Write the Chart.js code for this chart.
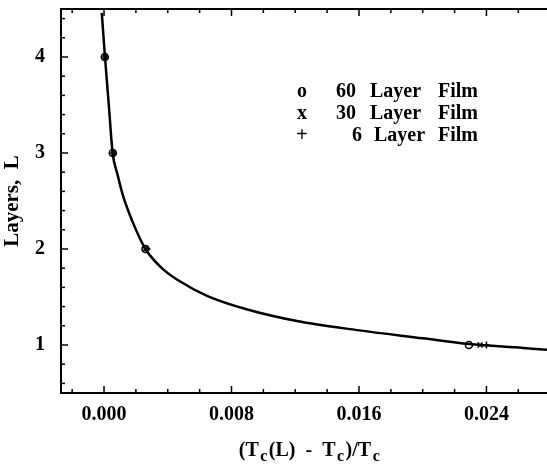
<!DOCTYPE html>
<html>
<head>
<meta charset="utf-8">
<script src="https://cdn.jsdelivr.net/npm/chart.js@4/dist/chart.umd.min.js"></script>
<style>
  body { margin: 0; background: #fff; }
  #wrap { width: 547px; height: 464px; position: relative; }
</style>
</head>
<body>
<div id="wrap"><canvas id="layersChart"></canvas></div>
<script>
// values
const xTicks = [0.000, 0.008, 0.016, 0.024];
const yTicks = [1, 2, 3, 4];

// fitted curve: [reduced temperature, layers]
const curveX = [-0.00014, 0.00006, 0.0003, 0.00054, 0.00084, 0.0012, 0.0018, 0.0026, 0.0037, 0.0046, 0.0065, 0.009, 0.0121, 0.0159, 0.020, 0.0229, 0.0263, 0.0278];
const curveL = [4.46, 4.0, 3.5, 3.0, 2.78, 2.55, 2.28, 2.0, 1.79, 1.68, 1.51, 1.37, 1.25, 1.155, 1.07, 1.01, 0.97, 0.95];

const layers = [4, 3, 2, 1];
const film60 = [0.00005, 0.00055, 0.0026, 0.0229];
const film30 = [0.00007, 0.0006, 0.0026, 0.0236];
const film6 = [0.0001, 0.0006, 0.0027, 0.0240];

const legendRows = [
  { sym: 'o', num: '60' },
  { sym: 'x', num: '30' },
  { sym: '+', num: '6' }
];

const serif = '"Liberation Serif", "DejaVu Serif", serif';
const toPoints = (xs, ys) => xs.map((v, i) => ({ x: v, y: ys[i] }));

const markerSet = (label, xs, style) => ({
  label: label,
  data: toPoints(xs, layers),
  showLine: false,
  pointStyle: style,
  pointRadius: 3.5,
  pointBorderWidth: 1.5,
  borderColor: '#000',
  backgroundColor: 'rgba(0,0,0,0)'
});

// axis frame, inward ticks, legend text and the x title with subscripts
const decorations = {
  id: 'decorations',
  afterDraw(chart) {
    const { ctx, chartArea: { left, right, top, bottom }, scales: { x, y } } = chart;
    ctx.save();
    ctx.strokeStyle = '#000';
    ctx.lineWidth = 2;
    ctx.beginPath();
    ctx.moveTo(right, top); ctx.lineTo(left, top);
    ctx.lineTo(left, bottom); ctx.lineTo(right, bottom);
    ctx.stroke();

    ctx.lineWidth = 1.5;
    for (let v = -0.002; v <= 0.0279; v += 0.002) {
      const px = x.getPixelForValue(v);
      const major = xTicks.some(t => Math.abs(t - v) < 1e-6);
      const len = major ? 7 : 4;
      ctx.beginPath();
      ctx.moveTo(px, bottom); ctx.lineTo(px, bottom - len);
      ctx.moveTo(px, top); ctx.lineTo(px, top + len);
      ctx.stroke();
    }
    for (let v = 0.6; v <= 4.45; v += 0.2) {
      const py = y.getPixelForValue(v);
      const major = yTicks.some(t => Math.abs(t - v) < 1e-6);
      const len = major ? 7 : 4;
      ctx.beginPath();
      ctx.moveTo(left, py); ctx.lineTo(left + len, py);
      ctx.stroke();
    }

    // legend
    ctx.fillStyle = '#000';
    ctx.font = 'bold 20px ' + serif;
    ctx.textBaseline = 'alphabetic';
    legendRows.forEach((r, i) => {
      const by = 97 + i * 22;
      ctx.textAlign = 'center';
      ctx.fillText(r.sym, 302, by);
      ctx.textAlign = 'right';
      ctx.fillText(r.num, i === 2 ? 362 : 356, by);
      ctx.textAlign = 'left';
      ctx.fillText('Layer', i === 2 ? 374 : 370, by);
      ctx.fillText('Film', 438, by);
    });

    // x title: (Tc(L) - Tc)/Tc
    const parts = [
      ['(T', 0], ['c', 1], ['(L)  -  T', 0], ['c', 1], [')/T', 0], ['c', 1]
    ];
    const mainFont = 'bold 20px ' + serif;
    const subFont = 'bold 16px ' + serif;
    let total = 0;
    parts.forEach(p => { ctx.font = p[1] ? subFont : mainFont; total += ctx.measureText(p[0]).width + 1.5; });
    let cx = 310 - total / 2;
    ctx.textAlign = 'left';
    parts.forEach(p => {
      ctx.font = p[1] ? subFont : mainFont;
      ctx.fillText(p[0], cx, p[1] ? 461 : 456);
      cx += ctx.measureText(p[0]).width + 1.5;
    });
    ctx.restore();
  }
};

new Chart(document.getElementById('layersChart'), {
  type: 'scatter',
  data: {
    datasets: [
      {
        label: 'fit',
        data: toPoints(curveX, curveL),
        showLine: true,
        pointRadius: 0,
        borderColor: '#000',
        borderWidth: 2.5,
        cubicInterpolationMode: 'monotone'
      },
      markerSet('60 Layer Film', film60, 'circle'),
      markerSet('30 Layer Film', film30, 'crossRot'),
      markerSet('6 Layer Film', film6, 'cross')
    ]
  },
  options: {
    responsive: true,
    maintainAspectRatio: false,
    animation: false,
    layout: { autoPadding: false, padding: { top: 9, left: 0, right: 0, bottom: 0 } },
    plugins: { legend: { display: false }, tooltip: { enabled: false } },
    scales: {
      x: {
        type: 'linear',
        min: -0.0027,
        max: 0.0278,
        grid: { display: false, drawTicks: false },
        border: { display: false },
        afterBuildTicks: s => { s.ticks = xTicks.map(v => ({ value: v })); },
        afterFit: s => { s.height = 71; s.paddingLeft = 0; s.paddingRight = 0; },
        ticks: {
          padding: 10,
          color: '#000',
          maxRotation: 0,
          font: { family: serif, size: 20, weight: 'bold' },
          callback: v => v.toFixed(3)
        }
      },
      y: {
        type: 'linear',
        min: 0.5,
        max: 4.5,
        grid: { display: false, drawTicks: false },
        border: { display: false },
        afterBuildTicks: s => { s.ticks = yTicks.map(v => ({ value: v })); },
        afterFit: s => { s.width = 61; s.paddingTop = 0; s.paddingBottom = 0; },
        ticks: {
          padding: 16,
          color: '#000',
          font: { family: serif, size: 20, weight: 'bold' }
        },
        title: {
          display: true,
          text: 'Layers,  L',
          color: '#000',
          padding: { top: 0, bottom: 0 },
          font: { family: serif, size: 21, weight: 'bold' }
        }
      }
    }
  },
  plugins: [decorations]
});
</script>
</body>
</html>
